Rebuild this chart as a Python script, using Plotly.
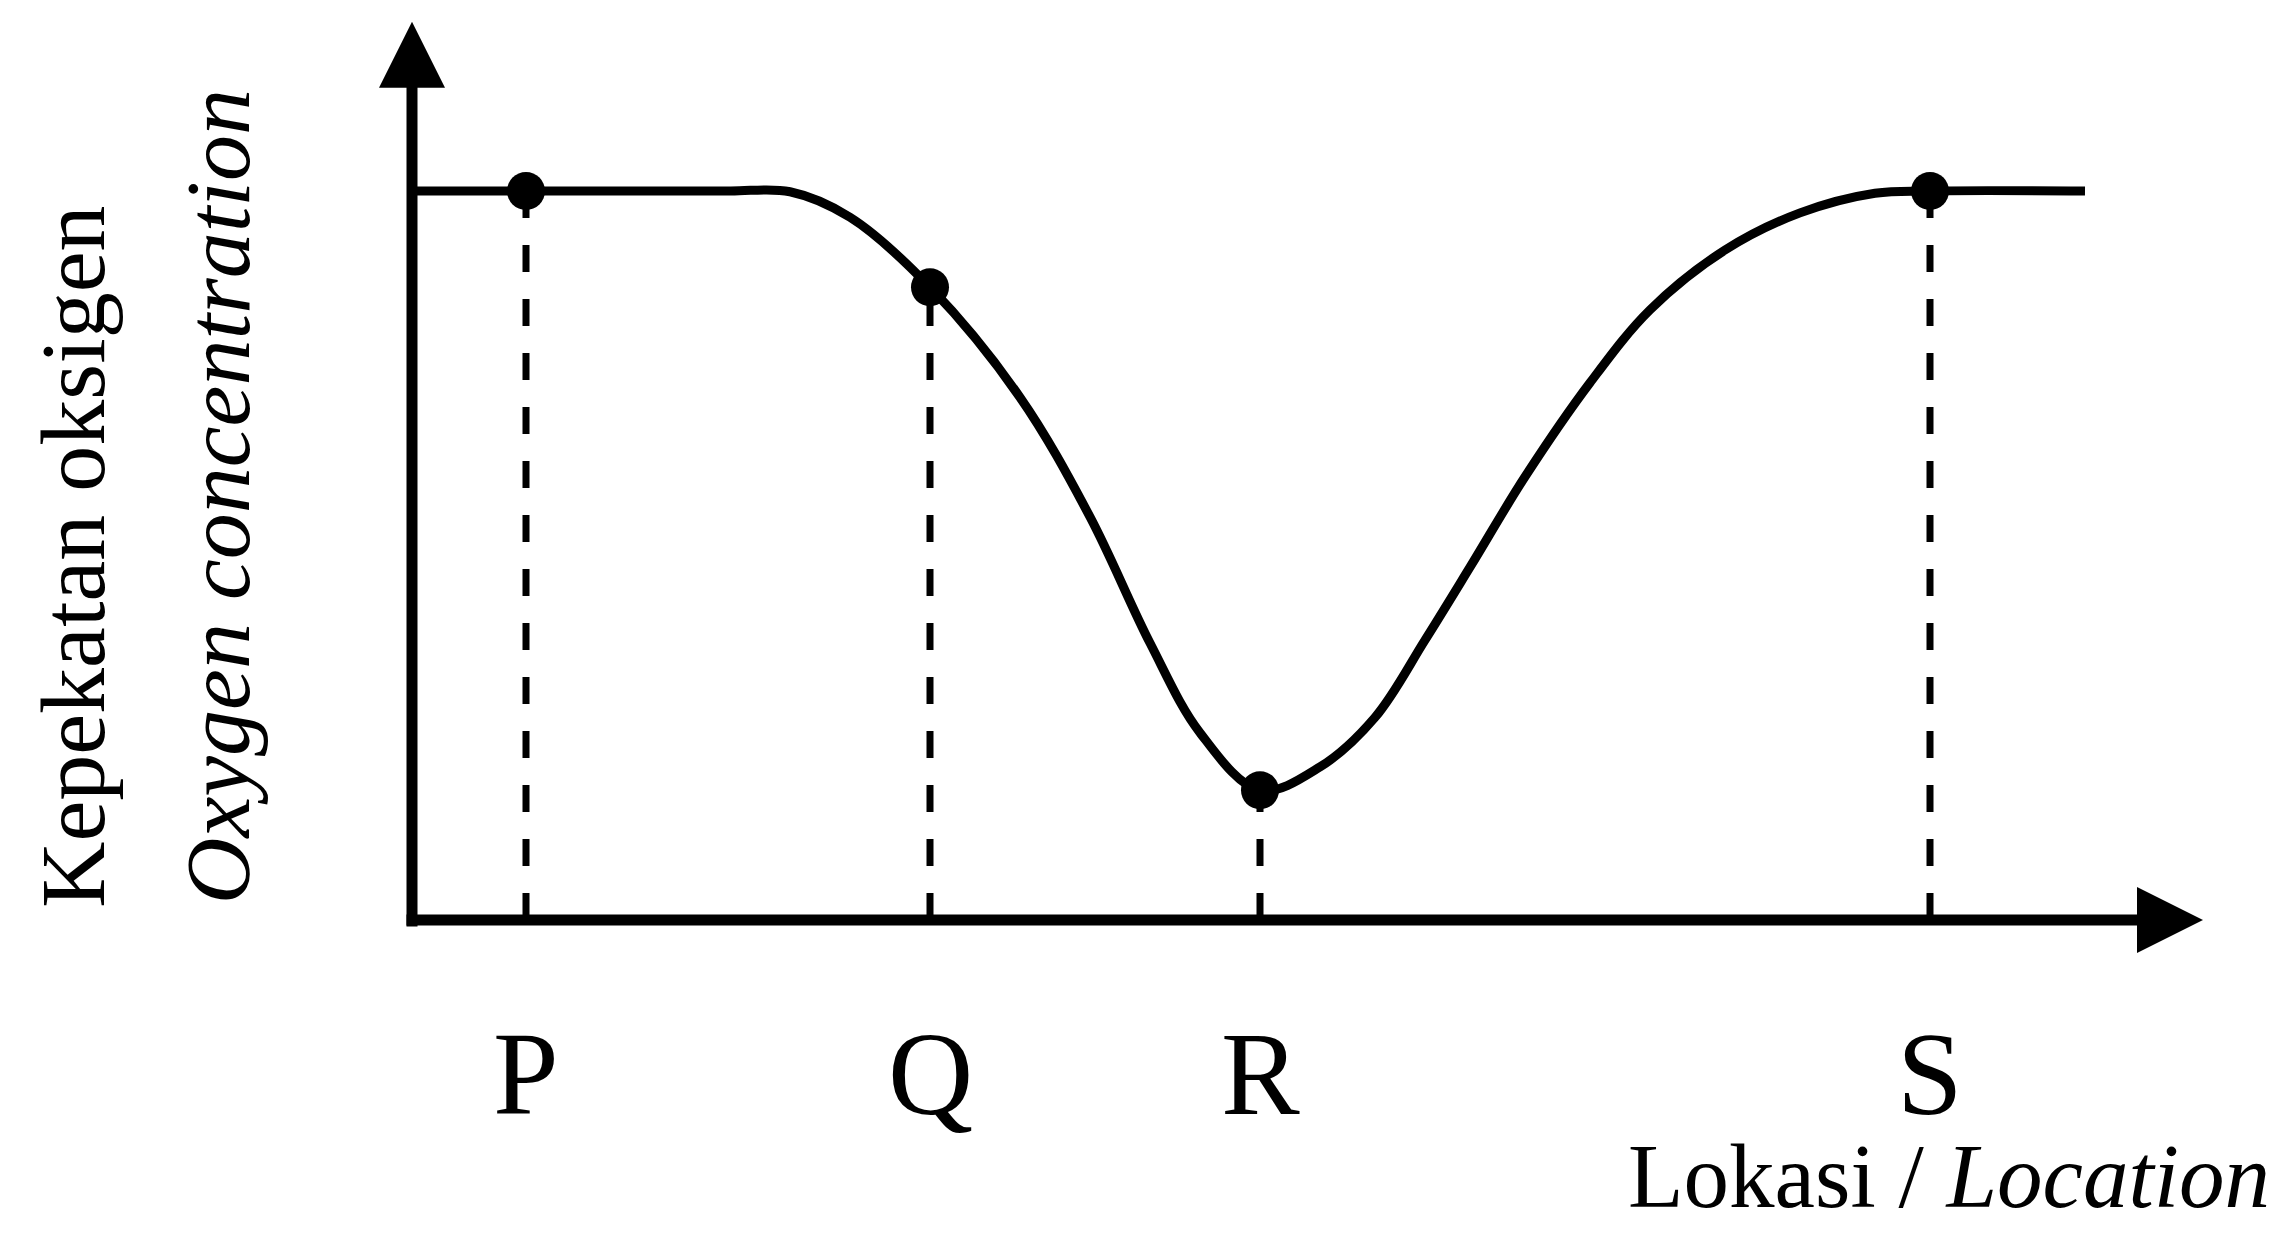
import plotly.graph_objects as go

# Sampling positions along the water course and oxygen level read at each (arbitrary units)
curve_x = [0.00, 1.14, 2.38, 3.18, 3.78, 4.38, 5.18, 6.08, 6.78, 7.38, 7.88, 8.48,
           9.08, 9.63, 10.13, 10.58, 11.13, 11.78, 12.38, 13.13, 13.88, 14.63,
           15.18, 16.73]
curve_y = [10.00, 10.00, 10.00, 10.00, 9.99, 9.64, 8.68, 7.17, 5.53, 3.80, 2.57, 1.78,
           2.10, 2.78, 3.84, 4.84, 6.08, 7.37, 8.37, 9.19, 9.70, 9.97,
           10.00, 10.00]

# Named sampling locations
site_names = ["P", "Q", "R", "S"]
site_x = [1.14, 5.18, 8.48, 15.18]
site_y = [10.00, 8.68, 1.78, 10.00]

# Extent of the drawn axes (arrow tips)
x_axis_end = 17.91
y_axis_end = 12.32

INK = "#000000"
SERIF = "Liberation Serif, Times New Roman, serif"

fig = go.Figure()

# Dashed drop lines from each site down to the location axis
drop_x, drop_y = [], []
for sx, sy in zip(site_x, site_y):
    drop_x += [sx, sx, None]
    drop_y += [0, sy, None]
fig.add_trace(go.Scatter(
    x=drop_x, y=drop_y, mode="lines",
    line=dict(color=INK, width=7, dash="27px,27px"),
    hoverinfo="skip", showlegend=False,
))

# Oxygen concentration curve
fig.add_trace(go.Scatter(
    x=curve_x, y=curve_y, mode="lines",
    line=dict(color=INK, width=9, shape="spline", smoothing=1.0),
    hoverinfo="skip", showlegend=False,
))

# Site markers
fig.add_trace(go.Scatter(
    x=site_x, y=site_y, mode="markers",
    marker=dict(color=INK, size=38),
    hoverinfo="skip", showlegend=False,
))

annotations = []

# Axes drawn as arrows
annotations.append(dict(
    x=x_axis_end, y=0, ax=-0.07, ay=0, xref="x", yref="y", axref="x", ayref="y",
    showarrow=True, arrowhead=2, arrowsize=1.2, arrowwidth=11, arrowcolor=INK, text="",
))
annotations.append(dict(
    x=0, y=y_axis_end, ax=0, ay=-0.11, xref="x", yref="y", axref="x", ayref="y",
    showarrow=True, arrowhead=2, arrowsize=1.2, arrowwidth=11, arrowcolor=INK, text="",
))

# Site letters under the axis
for name, sx in zip(site_names, site_x):
    annotations.append(dict(
        x=sx, y=-2.12, xref="x", yref="y", text=name, showarrow=False,
        xanchor="center", yanchor="middle",
        font=dict(family=SERIF, size=118, color=INK),
    ))

# Axis titles
annotations.append(dict(
    x=2272 / 2284, y=1 - 1176 / 1235, xref="paper", yref="paper",
    text="Lokasi / <i>Location</i>", showarrow=False,
    xanchor="right", yanchor="middle",
    font=dict(family=SERIF, size=91, color=INK),
))
annotations.append(dict(
    x=73 / 2284, y=1 - 557 / 1235, xref="paper", yref="paper",
    text="Kepekatan oksigen", showarrow=False, textangle=-90,
    xanchor="center", yanchor="middle",
    font=dict(family=SERIF, size=92, color=INK),
))
annotations.append(dict(
    x=218 / 2284, y=1 - 497 / 1235, xref="paper", yref="paper",
    text="<i>Oxygen concentration</i>", showarrow=False, textangle=-90,
    xanchor="center", yanchor="middle",
    font=dict(family=SERIF, size=92, color=INK),
))

fig.update_layout(
    width=2284, height=1235,
    margin=dict(l=0, r=0, t=0, b=0),
    paper_bgcolor="white", plot_bgcolor="white",
    xaxis=dict(range=[-4.12, 18.72], visible=False, fixedrange=True),
    yaxis=dict(range=[-4.32, 12.62], visible=False, fixedrange=True),
    annotations=annotations,
    showlegend=False,
)

fig.write_html("out.html", config={"displayModeBar": False})
